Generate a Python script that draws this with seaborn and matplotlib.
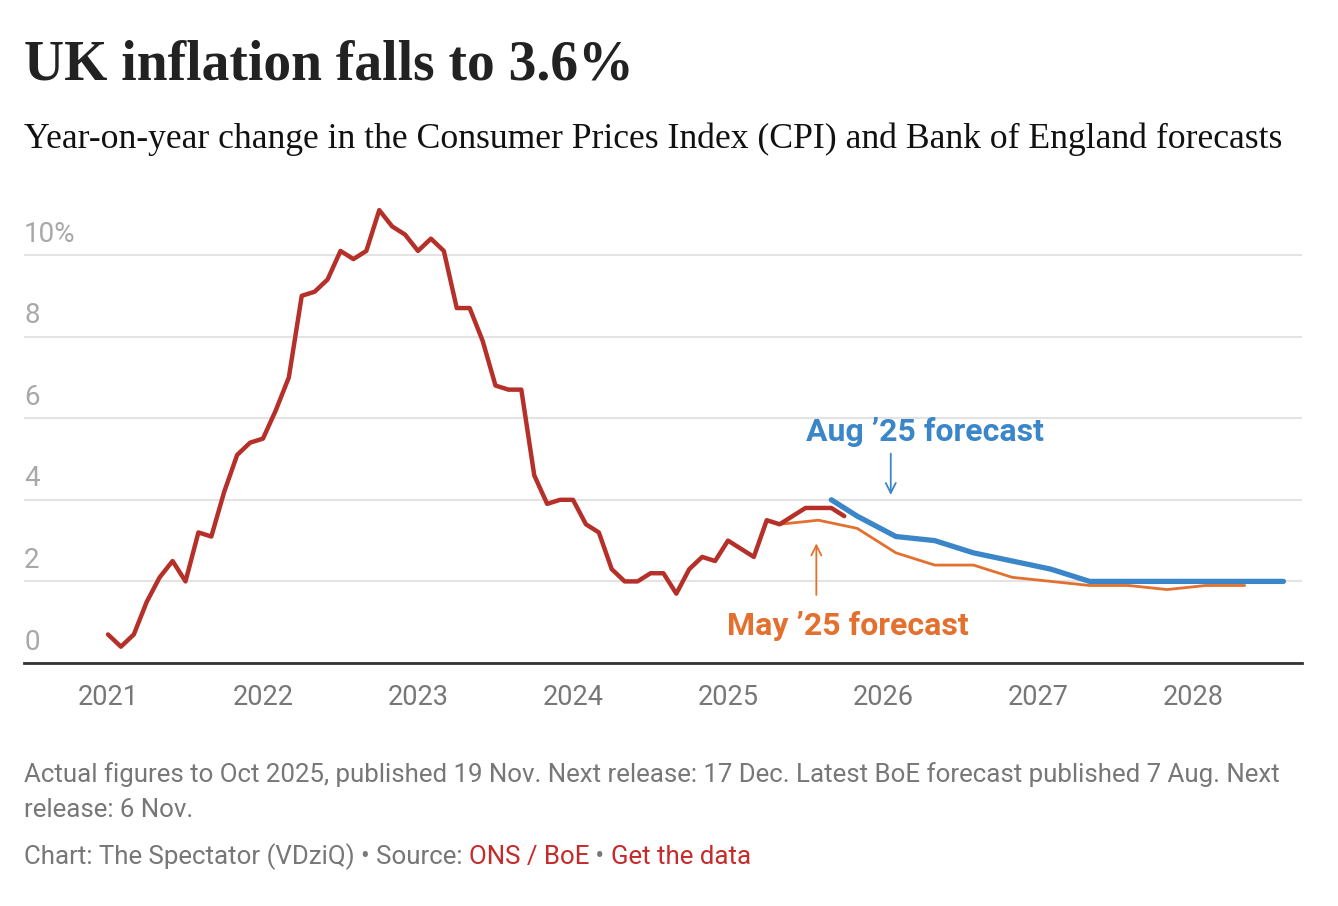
import pandas as pd
import matplotlib
matplotlib.use("Agg")
import matplotlib.pyplot as plt
import seaborn as sns

# Monthly CPI, year-on-year %, Jan 2021 - Oct 2025
cpi_start = "2021-01-01"
cpi_values = [0.7, 0.4, 0.7, 1.5, 2.1, 2.5, 2.0, 3.2, 3.1, 4.2, 5.1, 5.4,
              5.5, 6.2, 7.0, 9.0, 9.1, 9.4, 10.1, 9.9, 10.1, 11.1, 10.7, 10.5,
              10.1, 10.4, 10.1, 8.7, 8.7, 7.9, 6.8, 6.7, 6.7, 4.6, 3.9, 4.0,
              4.0, 3.4, 3.2, 2.3, 2.0, 2.0, 2.2, 2.2, 1.7, 2.3, 2.6, 2.5,
              3.0, 2.8, 2.6, 3.5, 3.4, 3.6, 3.8, 3.8, 3.8, 3.6]

# Bank of England forecasts
may_dates = ["2025-05-01", "2025-08-01", "2025-11-01", "2026-02-01", "2026-05-01",
             "2026-08-01", "2026-11-01", "2027-02-01", "2027-05-01", "2027-08-01",
             "2027-11-01", "2028-02-01", "2028-05-01"]
may_values = [3.4, 3.5, 3.3, 2.7, 2.4, 2.4, 2.1, 2.0, 1.9, 1.9, 1.8, 1.9, 1.9]

aug_dates = ["2025-09-01", "2025-11-01", "2026-02-01", "2026-05-01", "2026-08-01",
             "2026-11-01", "2027-02-01", "2027-05-01", "2027-08-01", "2027-11-01",
             "2028-02-01", "2028-05-01", "2028-08-01"]
aug_values = [4.0, 3.6, 3.1, 3.0, 2.7, 2.5, 2.3, 2.0, 2.0, 2.0, 2.0, 2.0, 2.0]

year_ticks = [2021, 2022, 2023, 2024, 2025, 2026, 2027, 2028]
y_ticks = [0, 2, 4, 6, 8, 10]
y_labels = ["0", "2", "4", "6", "8", "10%"]

RED = "#b6302a"
BLUE = "#3b86c8"
ORANGE = "#e3702f"


def decimal_year(dates):
    d = pd.to_datetime(pd.Series(dates))
    return d.dt.year + (d.dt.month - 1) / 12


cpi = pd.DataFrame({"date": pd.date_range(cpi_start, periods=len(cpi_values), freq="MS"),
                    "value": cpi_values})
cpi["x"] = decimal_year(cpi["date"])
may = pd.DataFrame({"x": decimal_year(may_dates), "value": may_values})
aug = pd.DataFrame({"x": decimal_year(aug_dates), "value": aug_values})

sns.set_theme(style="white")
plt.rcParams["font.family"] = ["Roboto", "DejaVu Sans"]

W, H = 1338, 906
fig = plt.figure(figsize=(W / 100, H / 100), dpi=100)
ax = fig.add_axes([24 / W, 1 - 663 / H, (1302 - 24) / W, (663 - 200) / H])

sns.lineplot(data=may, x="x", y="value", color=ORANGE, linewidth=2.0, ax=ax)
sns.lineplot(data=aug, x="x", y="value", color=BLUE, linewidth=3.8, ax=ax,
             solid_capstyle="round")
sns.lineplot(data=cpi, x="x", y="value", color=RED, linewidth=3.2, ax=ax,
             solid_capstyle="round")

ax.set_xlim(2021 - 84 / 155, 2021 + 1194 / 155)
ax.set_ylim(0, 463 / 40.8)

for s in ["top", "right", "left"]:
    ax.spines[s].set_visible(False)
ax.spines["bottom"].set_color("#333333")
ax.spines["bottom"].set_linewidth(2)

ax.set_yticks(y_ticks)
ax.set_yticklabels([])
ax.yaxis.grid(True, color="#e3e3e3", linewidth=1.5)
ax.tick_params(axis="y", length=0)
for v, lab in zip(y_ticks, y_labels):
    ax.text(0, v + 0.18, lab, transform=ax.get_yaxis_transform(), ha="left",
            va="bottom", fontsize=20, color="#a8a8a8")

ax.set_xticks(year_ticks)
ax.set_xticklabels([str(y) for y in year_ticks], fontsize=19.5, color="#777777")
ax.tick_params(axis="x", length=0, pad=15)
ax.set_xlabel("")
ax.set_ylabel("")

# Forecast labels
ax.annotate("", xy=(2026.05, 4.05), xytext=(2026.05, 5.2),
            arrowprops=dict(arrowstyle="->", color=BLUE, lw=1.3, mutation_scale=18))
ax.text(2026.27, 5.65, "Aug \u201925 forecast", color=BLUE, fontsize=23,
        fontweight="bold", ha="center", va="center")
ax.annotate("", xy=(2025.57, 3.0), xytext=(2025.57, 1.6),
            arrowprops=dict(arrowstyle="->", color=ORANGE, lw=1.3, mutation_scale=18))
ax.text(2025.77, 0.9, "May \u201925 forecast", color=ORANGE, fontsize=23,
        fontweight="bold", ha="center", va="center")

# Titles
fig.text(24 / W, 1 - 80 / H, "UK inflation falls to 3.6%", fontsize=40,
         fontweight="bold", family="Liberation Serif", color="#222222", va="baseline")
fig.text(24 / W, 1 - 148 / H,
         "Year-on-year change in the Consumer Prices Index (CPI) and Bank of England forecasts",
         fontsize=25.7, family="Liberation Serif", color="#111111", va="baseline")

# Footer
GREY = "#777777"
FOOT = 18.6
fig.text(24 / W, 1 - 782 / H,
         "Actual figures to Oct 2025, published 19 Nov. Next release: 17 Dec. "
         "Latest BoE forecast published 7 Aug. Next",
         fontsize=FOOT, color=GREY, va="baseline")
fig.text(24 / W, 1 - 817 / H, "release: 6 Nov.", fontsize=FOOT, color=GREY, va="baseline")

parts = [("Chart: The Spectator (VDziQ) \u2022 Source: ", GREY), ("ONS / BoE", "#c62a2a"),
         (" \u2022 ", GREY), ("Get the data", "#c62a2a")]
fig.canvas.draw()
renderer = fig.canvas.get_renderer()
x = 24
for txt, col in parts:
    t = fig.text(x / W, 1 - 864 / H, txt, fontsize=FOOT, color=col, va="baseline")
    x += t.get_window_extent(renderer).width

fig.savefig("out.png", dpi=100)
